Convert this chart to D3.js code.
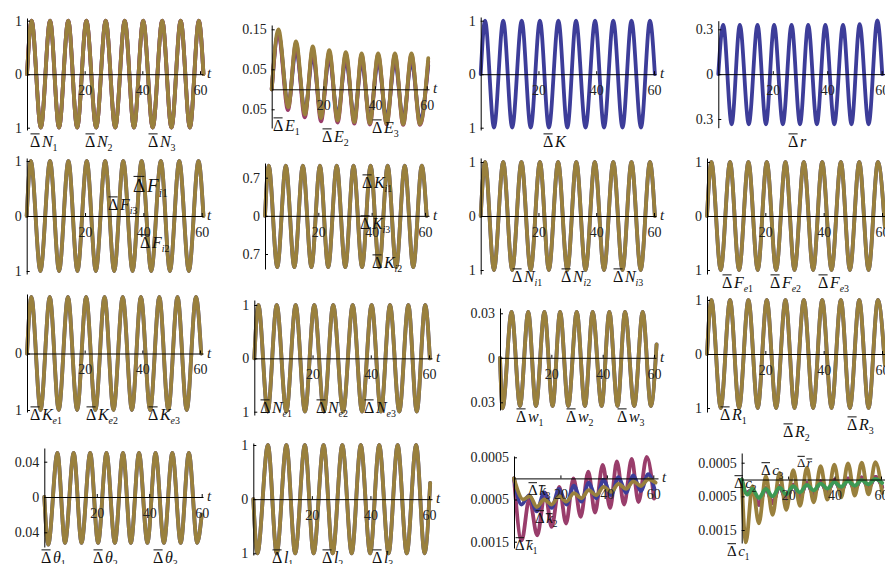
<!DOCTYPE html>
<html>
<head>
<meta charset="utf-8">
<script src="https://cdn.jsdelivr.net/npm/d3@7"></script>
<style>
  body { margin: 0; background: #fff; }
  text { font-family: "Liberation Serif", "DejaVu Serif", serif; }
</style>
</head>
<body>
<svg id="chart" width="885" height="564"></svg>
<script>
var blue = '#3d3d99', purple = '#993d6b', gold = '#99803d', green = '#3d9954';

// extrema of each curve: [t, value]
var dN = [[0,0],[1.6,1],[4.8,-1],[8.0,1],[11.1,-1],[14.3,1],[17.4,-1],[20.6,1],[24.0,-1],[27.3,1],[30.6,-1],[33.9,1],[37.1,-1],[40.3,1],[43.6,-1],[46.9,1],[50.1,-1],[53.3,1],[56.5,-1],[59.6,1],[61.2,0]];
var dE3 = [[0,0],[2.6,0.15],[6.4,-0.045],[9.4,0.12],[12.9,-0.063],[15.9,0.107],[19.1,-0.072],[22.3,0.098],[25.5,-0.078],[28.7,0.093],[32.0,-0.082],[34.8,0.09],[38.0,-0.085],[41.2,0.09],[44.5,-0.086],[47.7,0.09],[50.9,-0.087],[54.1,0.09],[57.4,-0.087],[60.6,0.078]];
var dE2 = [[0,0],[2.6,0.14],[6.3,-0.052],[9.4,0.115],[12.8,-0.07],[15.9,0.1],[19.1,-0.08],[22.3,0.092],[25.5,-0.083],[28.7,0.088],[32.0,-0.086],[34.8,0.086],[38.0,-0.088],[41.2,0.086],[44.5,-0.088],[47.7,0.086],[50.9,-0.089],[54.1,0.086],[57.4,-0.089],[60.6,0.07]];
var dE1 = [[0,0],[2.6,0.14],[6.4,-0.04],[9.4,0.1],[12.9,-0.055],[15.9,0.085],[19.1,-0.062],[22.3,0.078],[25.5,-0.066],[28.7,0.073],[32.0,-0.07],[34.8,0.07],[38.0,-0.072],[41.2,0.07],[44.5,-0.073],[47.7,0.07],[50.9,-0.074],[54.1,0.07],[57.4,-0.074],[60.6,0.06]];
var dK = [[0,0],[1.5,1],[4.6,-1],[7.8,1],[10.9,-1],[14.2,1],[17.3,-1],[20.5,1],[23.6,-1],[26.9,1],[30.0,-1],[33.0,1],[36.3,-1],[39.6,1],[42.7,-1],[45.9,1],[49.1,-1],[52.2,1],[55.5,-1],[58.6,1],[60.3,0]];
var dr = [[0,0],[1.8,0.33],[4.9,-0.335],[7.9,0.33],[11.2,-0.335],[14.4,0.33],[17.5,-0.335],[20.5,0.33],[23.7,-0.335],[26.9,0.33],[30.0,-0.335],[33.0,0.33],[36.2,-0.335],[39.3,0.33],[42.6,-0.335],[45.8,0.33],[48.9,-0.335],[51.9,0.335],[55.2,-0.335],[58.4,0.36],[60.2,0]];
var dFi = [[0,0],[1.4,1],[4.7,-1],[8.0,1],[11.1,-1],[14.3,1],[17.4,-1],[20.6,1],[23.7,-1],[26.9,1],[30.0,-1],[33.1,1],[36.3,-1],[39.4,1],[42.7,-1],[46.0,1],[49.1,-1],[52.3,1],[55.6,-1],[58.9,1],[60.6,0]];
var dKi = [[0,0],[1.4,0.92],[4.6,-0.94],[7.8,0.92],[11.0,-0.94],[14.2,0.92],[17.4,-0.94],[20.6,0.92],[23.7,-0.94],[26.9,0.92],[30.1,-0.94],[33.2,0.92],[36.4,-0.94],[39.6,0.92],[42.8,-0.94],[46.0,0.92],[49.2,-0.94],[52.4,0.92],[55.6,-0.94],[58.8,0.92],[60.6,0]];
var dNi = [[0,0],[1.5,1],[4.6,-1],[7.8,1],[10.9,-1],[14.1,1],[17.3,-1],[20.5,1],[23.6,-1],[26.8,1],[30.0,-1],[33.1,1],[36.3,-1],[39.5,1],[42.7,-1],[45.9,1],[49.1,-1],[52.2,1],[55.4,-1],[58.6,1],[60.3,0]];
var dFe = [[0,0],[1.5,1],[4.7,-1],[7.9,1],[11.0,-1],[14.2,1],[17.4,-1],[20.5,1],[23.7,-1],[26.9,1],[30.0,-1],[33.2,1],[36.4,-1],[39.5,1],[42.7,-1],[45.9,1],[49.0,-1],[52.2,1],[55.4,-1],[58.6,1],[61.0,-0.2]];
var dKe = [[0,0],[1.5,1],[4.7,-1],[7.9,1],[11.0,-1],[14.2,1],[17.4,-1],[20.5,1],[23.7,-1],[26.9,1],[30.0,-1],[33.2,1],[36.4,-1],[39.5,1],[42.7,-1],[45.9,1],[49.0,-1],[52.2,1],[55.4,-1],[58.6,1],[60.4,0]];
var dNe = [[0,0],[1.4,1],[4.6,-1],[7.7,1],[11.0,-1],[14.2,1],[17.4,-1],[20.6,1],[23.9,-1],[27.1,1],[30.5,-1],[33.8,1],[37.0,-1],[40.3,1],[43.5,-1],[46.6,1],[49.8,-1],[52.9,1],[55.8,-1],[58.7,1],[60.3,0]];
var dw = [[0,0],[1.0,-0.034],[4.5,0.031],[7.8,-0.0325],[11.0,0.031],[14.0,-0.0325],[17.3,0.031],[20.5,-0.0325],[23.4,0.031],[26.6,-0.0325],[29.9,0.031],[33.1,-0.0325],[36.1,0.031],[39.6,-0.0325],[42.6,0.031],[45.8,-0.0325],[48.7,0.031],[52.3,-0.0325],[55.6,0.031],[58.8,-0.0325],[61.0,0.009]];
var dR = [[0,0],[1.5,1],[4.7,-1],[7.9,1],[11.0,-1],[14.2,1],[17.4,-1],[20.5,1],[23.7,-1],[26.9,1],[30.0,-1],[33.2,1],[36.4,-1],[39.5,1],[42.7,-1],[45.9,1],[49.0,-1],[52.2,1],[55.4,-1],[58.6,1],[61.0,-0.2]];
var dTh = [[0,0],[1.5,-0.054],[5.0,0.05],[7.9,-0.052],[11.2,0.05],[14.2,-0.052],[17.5,0.05],[20.5,-0.052],[23.7,0.05],[26.9,-0.052],[30.0,0.05],[33.0,-0.052],[36.1,0.05],[39.3,-0.052],[42.4,0.05],[45.6,-0.052],[48.8,0.05],[52.0,-0.052],[55.1,0.05],[58.3,-0.052],[60.0,-0.02]];
var dl = [[0,0],[1.4,-1],[5.0,1],[8.0,-1],[11.3,1],[14.3,-1],[17.6,1],[20.6,-1],[24.0,1],[27.1,-1],[30.4,1],[33.6,-1],[36.7,1],[39.9,-1],[43.0,1],[46.2,-1],[49.3,1],[52.4,-1],[55.6,1],[58.5,-1],[60.4,0.3]];
var dk1 = [[0,0],[3.3,-0.00147],[6.6,-0.00048],[10.0,-0.00135],[13.4,-0.00034],[16.2,-0.00115],[19.5,-0.0002],[22.4,-0.00107],[25.6,0],[28.7,-0.00091],[32.0,0.00016],[34.9,-0.00081],[38.2,0.00032],[41.4,-0.0007],[44.3,0.0004],[47.4,-0.00062],[50.7,0.00046],[53.6,-0.00056],[57.2,0.00051],[60.3,-0.00048]];
var dk2 = [[0,0],[3.2,-0.00062],[6.5,-0.0004],[9.8,-0.00078],[13.0,-0.00033],[16.2,-0.0007],[19.4,-0.00025],[22.6,-0.00062],[25.8,-0.00017],[29.0,-0.00055],[32.2,-0.0001],[35.4,-0.00047],[38.6,-0.00003],[41.8,-0.0004],[45.0,0.00003],[48.2,-0.00034],[51.4,0.00007],[54.6,-0.0003],[57.8,0.0001],[60.5,-0.00025]];
var dk3 = [[0,0],[4.0,-0.0005],[6.8,-0.00042],[9.8,-0.00068],[13.0,-0.0005],[16.2,-0.00062],[19.4,-0.00042],[22.6,-0.00055],[25.8,-0.00035],[29.0,-0.00047],[32.2,-0.00028],[35.4,-0.0004],[38.6,-0.0002],[41.8,-0.00032],[45.0,-0.00013],[48.2,-0.00025],[51.4,-0.00007],[54.6,-0.00018],[57.8,-0.00002],[61.0,-0.0001]];
var dc1 = [[0,0],[1.8,-0.00187],[4.6,-0.0002],[7.4,-0.0013],[10.4,0.0001],[13.3,-0.00105],[16.3,0.0002],[19.2,-0.0009],[22.2,0.00028],[25.1,-0.00078],[28.1,0.00035],[31.0,-0.00068],[34.0,0.0004],[36.9,-0.0006],[39.9,0.00044],[42.8,-0.00053],[45.8,0.00048],[48.7,-0.00048],[51.7,0.0005],[54.6,-0.00044],[57.6,0.00052],[60.5,-0.0004]];
var dc2 = [[0,0],[2.0,-0.0004],[4.6,-0.0003],[7.4,-0.00075],[10.4,-0.00025],[13.3,-0.0007],[16.3,-0.0002],[19.2,-0.0006],[22.2,-0.00015],[25.1,-0.00052],[28.1,-0.0001],[31.0,-0.00045],[34.0,-0.00005],[36.9,-0.0004],[39.9,0],[42.8,-0.00035],[45.8,0.00003],[48.7,-0.0003],[51.7,0.00006],[54.6,-0.00026],[57.6,0.00008],[60.5,-0.00022]];
var dc3 = [[0,0],[2.5,-0.00045],[4.6,-0.00028],[7.4,-0.00055],[10.4,-0.00028],[13.3,-0.0005],[16.3,-0.00024],[19.2,-0.00044],[22.2,-0.0002],[25.1,-0.00038],[28.1,-0.00016],[31.0,-0.00032],[34.0,-0.00012],[36.9,-0.00027],[39.9,-0.00008],[42.8,-0.00022],[45.8,-0.00005],[48.7,-0.00018],[51.7,-0.00002],[54.6,-0.00014],[57.6,0.00002],[60.5,-0.0001]];

// tick values and their printed labels
var ticksUnit = [1, 0, -1], labUnit = ['1', '0', '1'];
var ticksE = [0.15, 0.05, -0.05], labE = ['0.15', '0.05', '0.05'];
var ticksR = [0.3, 0, -0.3], labR = ['0.3', '0', '0.3'];
var ticksKi = [0.7, 0, -0.7], labKi = ['0.7', '0', '0.7'];
var ticksKe = [0, -1], labKe = ['0', '1'];
var ticksW = [0.03, 0, -0.03], labW = ['0.03', '0', '0.03'];
var ticksTh = [0.04, 0, -0.04], labTh = ['0.04', '0', '0.04'];
var ticksSmall = [0.0005, -0.0005, -0.0015], labSmall = ['0.0005', '0.0005', '0.0015'];
var xTicks = [20, 40, 60];

var panels = [
  {ax: 27, x60: 200, xEnd: 203, yRef: [[1, 20.7], [-1, 127.7]], yExt: [18, 130], ticks: ticksUnit, tl: labUnit,
   series: [[dN, blue], [dN, purple], [dN, gold]],
   labels: [[30, 147, 'N', '1'], [85, 147, 'N', '2'], [148, 147, 'N', '3']]},
  {ax: 271.7, x60: 426.7, xEnd: 429, yRef: [[0.15, 29.3], [-0.05, 109.3]], yExt: [25, 128], ticks: ticksE, tl: labE,
   series: [[dE1, blue], [dE2, purple], [dE3, gold]],
   labels: [[273, 131, 'E', '1'], [322, 142, 'E', '2'], [372, 133, 'E', '3']]},
  {ax: 480.7, x60: 654, xEnd: 656, yRef: [[1, 20.7], [-1, 127.7]], yExt: [17, 130], ticks: ticksUnit, tl: labUnit,
   series: [[dK, blue]],
   labels: [[543, 147, 'K', '']]},
  {ax: 718.3, x60: 881.7, xEnd: 890, yRef: [[0.3, 29.3], [-0.3, 119]], yExt: [20.7, 127.7], ticks: ticksR, tl: labR,
   series: [[dr, blue]],
   labels: [[788, 147, 'r', '']]},

  {ax: 26.7, x60: 201.7, xEnd: 203, yRef: [[1, 161], [-1, 271]], yExt: [158, 274], ticks: ticksUnit, tl: labUnit,
   series: [[dFi, blue], [dFi, gold]],
   labels: [[133, 192, 'F', 'i1', 19], [108, 210, 'F', 'i3'], [140, 248, 'F', 'i2']]},
  {ax: 265, x60: 425, xEnd: 429, yRef: [[0.7, 177.7], [-0.7, 254]], yExt: [163, 269], ticks: ticksKi, tl: labKi,
   series: [[dKi, blue], [dKi, gold]],
   labels: [[362, 188, 'K', 'i1'], [360, 229, 'K', 'i3'], [372, 268, 'K', 'i2']]},
  {ax: 480.7, x60: 654, xEnd: 656, yRef: [[1, 162], [-1, 270]], yExt: [158, 274], ticks: ticksUnit, tl: labUnit,
   series: [[dNi, blue], [dNi, gold]],
   labels: [[512, 282, 'N', 'i1'], [561, 282, 'N', 'i2'], [613, 282, 'N', 'i3']]},
  {ax: 707, x60: 882, xEnd: 890, yRef: [[1, 162], [-1, 270]], yExt: [158, 274], ticks: ticksUnit, tl: labUnit,
   series: [[dFe, blue], [dFe, gold]],
   labels: [[722, 288, 'F', 'e1'], [770, 288, 'F', 'e2'], [818, 288, 'F', 'e3']]},

  {ax: 27, x60: 200, xEnd: 203, yRef: [[1, 297], [-1, 410]], yExt: [294, 412], ticks: ticksKe, tl: labKe,
   series: [[dKe, blue], [dKe, gold]],
   labels: [[30, 420, 'K', 'e1'], [86, 420, 'K', 'e2'], [148, 420, 'K', 'e3']]},
  {ax: 254.3, x60: 429, xEnd: 432, yRef: [[1, 305], [-1, 411.7]], yExt: [300, 415], ticks: ticksUnit, tl: labUnit,
   series: [[dNe, blue], [dNe, gold]],
   labels: [[260, 413, 'N', 'e1'], [316, 413, 'N', 'e2'], [364, 413, 'N', 'e3']]},
  {ax: 500, x60: 654, xEnd: 656, yRef: [[0.03, 313.3], [-0.03, 402.3]], yExt: [308, 410], ticks: ticksW, tl: labW,
   series: [[dw, blue], [dw, gold]],
   labels: [[516, 422, 'w', '1'], [566, 422, 'w', '2'], [617, 422, 'w', '3']]},
  {ax: 707, x60: 882, xEnd: 890, yRef: [[1, 300], [-1, 408]], yExt: [296, 412], ticks: ticksUnit, tl: labUnit,
   series: [[dR, blue], [dR, gold]],
   labels: [[720, 420, 'R', '1'], [783, 437, 'R', '2'], [847, 430, 'R', '3']]},

  {ax: 44.3, x60: 201.7, xEnd: 203, yRef: [[0.04, 461.7], [-0.04, 532.3]], yExt: [448, 547], ticks: ticksTh, tl: labTh,
   series: [[dTh, blue], [dTh, gold]],
   labels: [[41, 563, 'θ', '1'], [93, 563, 'θ', '2'], [153, 563, 'θ', '3']]},
  {ax: 253.3, x60: 429, xEnd: 432, yRef: [[1, 445], [-1, 553.3]], yExt: [443, 555], ticks: ticksUnit, tl: labUnit,
   series: [[dl, blue], [dl, gold]],
   labels: [[272, 563, 'l', '1'], [322, 563, 'l', '2'], [372, 563, 'l', '3']]},
  {ax: 514, x60: 653.3, xEnd: 658, yRef: [[0.0005, 457.3], [-0.0015, 541.7]], yExt: [456, 548], ticks: ticksSmall, tl: labSmall,
   series: [[dk1, purple], [dk2, blue], [dk3, gold]],
   labels: [[528, 495, 'k', '3', 15, true], [535, 523, 'k', '2', 15, true], [515, 550, 'k', '1', 15, true]]},
  {ax: 741.7, x60: 881, xEnd: 890, yRef: [[0.0005, 462.7], [-0.0015, 530]], yExt: [453, 543], ticks: ticksSmall, tl: labSmall,
   series: [[dc2, blue], [dc2, purple], [dc1, gold], [dc3, green]],
   labels: [[761, 475, 'c', '3', 15], [797, 467, 'r', '', 13, true], [734, 488, 'c', '2', 15], [727, 556, 'c', '1', 15]]}
];

var svg = d3.select('#chart');

function addLabel(g, lab) {
  var x = lab[0], y = lab[1], letter = lab[2], sub = lab[3], size = lab[4] || 16, barLetter = lab[5];
  var t = g.append('text').attr('x', x).attr('y', y).attr('font-size', size).attr('fill', '#111');
  t.append('tspan').text('Δ');
  t.append('tspan').attr('font-style', 'italic').attr('dx', size * 0.1).text(letter);
  if (sub) {
    var s = t.append('tspan').attr('font-size', size * 0.62).attr('dy', size * 0.28);
    sub.split('').forEach(function(ch) {
      s.append('tspan').attr('font-style', /[0-9]/.test(ch) ? 'normal' : 'italic').text(ch);
    });
  }
  g.append('line')
    .attr('x1', x + 0.5).attr('x2', x + size * 0.6)
    .attr('y1', y - size * 0.82).attr('y2', y - size * 0.82)
    .attr('stroke', '#111').attr('stroke-width', 1);
  if (barLetter) {
    var bx = x + size * 0.72;
    g.append('line')
      .attr('x1', bx).attr('x2', bx + size * 0.45)
      .attr('y1', y - size * 0.62).attr('y2', y - size * 0.62)
      .attr('stroke', '#111').attr('stroke-width', 1);
  }
}

panels.forEach(function(p) {
  var g = svg.append('g');

  var x = d3.scaleLinear().domain([0, 60]).range([p.ax, p.x60]);
  x = x.copy().domain([0, x.invert(p.xEnd)]).range([p.ax, p.xEnd]);

  var y0 = d3.scaleLinear().domain([p.yRef[0][0], p.yRef[1][0]]).range([p.yRef[0][1], p.yRef[1][1]]);
  var y = y0.copy().domain([y0.invert(p.yExt[1]), y0.invert(p.yExt[0])]).range([p.yExt[1], p.yExt[0]]);

  var line = d3.line()
    .x(function(d) { return x(d[0]); })
    .y(function(d) { return y(d[1]); })
    .curve(d3.curveMonotoneX);

  p.series.forEach(function(s) {
    g.append('path')
      .datum(s[0])
      .attr('d', line)
      .attr('fill', 'none')
      .attr('stroke', s[1])
      .attr('stroke-width', s[2] || 3.8)
      .attr('stroke-linejoin', 'round')
      .attr('stroke-linecap', 'round');
  });

  // axes drawn over the curves
  var yAxis = d3.axisLeft(y).tickValues(p.ticks)
    .tickFormat(function(d, i) { return p.tl[i]; })
    .tickSize(-3).tickSizeOuter(0).tickPadding(5);
  var xAxis = d3.axisBottom(x).tickValues(xTicks)
    .tickSize(-3).tickSizeOuter(0).tickPadding(11);

  var gy = g.append('g').attr('transform', 'translate(' + p.ax + ',0)').call(yAxis);
  var gx = g.append('g').attr('transform', 'translate(0,' + y(0) + ')').call(xAxis);
  [gy, gx].forEach(function(a) {
    a.selectAll('path, line').attr('stroke', '#000').attr('stroke-width', 1);
    a.selectAll('text').attr('font-family', '"Liberation Serif", serif').attr('font-size', 14).attr('fill', '#222');
  });

  g.append('text')
    .attr('x', p.xEnd + 4).attr('y', y(0) + 4)
    .attr('font-size', 15).attr('font-style', 'italic').attr('fill', '#222')
    .text('t');

  p.labels.forEach(function(l) { addLabel(g, l); });
});
</script>
</body>
</html>
